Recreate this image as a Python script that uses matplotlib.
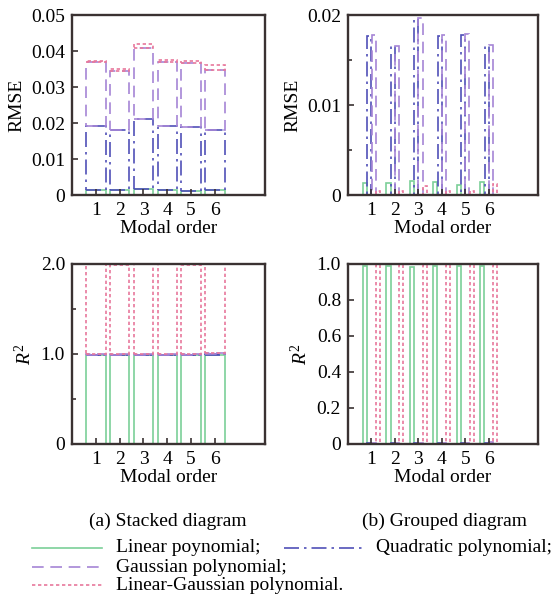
import matplotlib
matplotlib.use("Agg")
import matplotlib.pyplot as plt
import numpy as np
from matplotlib.lines import Line2D

plt.rcParams["font.family"] = ["Liberation Serif", "DejaVu Serif"]
plt.rcParams["mathtext.fontset"] = "custom"
plt.rcParams["mathtext.it"] = "Liberation Serif:italic"
plt.rcParams["mathtext.rm"] = "Liberation Serif"

# Modal orders and fitting-method results
modes = [1, 2, 3, 4, 5, 6]
series_names = ["Linear poynomial;", "Quadratic polynomial;",
                "Gaussian polynomial;", "Linear-Gaussian polynomial."]

rmse_linear = [0.00135, 0.00135, 0.0016, 0.0014, 0.0011, 0.0015]
rmse_quadratic = [0.0177, 0.0166, 0.0196, 0.0177, 0.0178, 0.0166]
rmse_gaussian = [0.0178, 0.0166, 0.0197, 0.0178, 0.0179, 0.0167]
rmse_lin_gauss = [0.0004, 0.0005, 0.0010, 0.0005, 0.0004, 0.0012]

r2_linear = [0.987, 0.988, 0.986, 0.987, 0.988, 0.988]
r2_quadratic = [0.006, 0.005, 0.007, 0.006, 0.005, 0.008]
r2_gaussian = [0.006, 0.005, 0.007, 0.006, 0.005, 0.010]
r2_lin_gauss = [0.996, 0.996, 0.996, 0.996, 0.996, 0.996]

# line styles per method
colors = ["#7ccf98", "#5050b8", "#a585d6", "#e8789c"]
styles = ["-", (0, (9, 3, 1.5, 3)), (0, (7, 4)), (0, (2, 1.6))]
lw = 1.2
frame_color = "#3a3232"

fig = plt.figure(figsize=(5.58, 5.99), dpi=100)
W, H = 558, 599


def px_axes(left, top, right, bottom):
    return fig.add_axes([left / W, 1 - bottom / H, (right - left) / W, (bottom - top) / H])


def style_axes(ax, ylim, major, labels, minor=None):
    ax.set_xlim(0.0, 8.1)
    ax.set_ylim(*ylim)
    ax.set_xticks(modes)
    ax.set_xticklabels([str(m) for m in modes])
    ax.set_yticks(major)
    ax.set_yticklabels(labels)
    if minor is not None:
        ax.set_yticks(minor, minor=True)
    ax.tick_params(axis="both", which="both", direction="in", labelsize=14,
                   color=frame_color, width=1.2)
    ax.tick_params(axis="both", which="major", length=4, pad=5)
    ax.tick_params(axis="both", which="minor", length=3)
    ax.tick_params(axis="x", which="minor", bottom=False)
    for s in ax.spines.values():
        s.set_color(frame_color)
        s.set_linewidth(1.7)
    ax.set_xlabel("Modal order", fontsize=14, labelpad=1)


def stacked(ax, data):
    x = np.array(modes, dtype=float)
    base = np.zeros(len(modes))
    for vals, c, ls in zip(data, colors, styles):
        vals = np.array(vals)
        ax.bar(x, vals, width=0.82, bottom=base, fill=False, edgecolor=c,
               linestyle=ls, linewidth=lw)
        base = base + vals


def grouped(ax, data):
    x = np.array(modes, dtype=float)
    n = len(data)
    gw = n / (n + 1.5)
    bw = gw / n
    for i, (vals, c, ls) in enumerate(zip(data, colors, styles)):
        off = (i - (n - 1) / 2) * bw
        ax.bar(x + off, vals, width=bw * 0.95, fill=False, edgecolor=c,
               linestyle=ls, linewidth=lw)


rmse = [rmse_linear, rmse_quadratic, rmse_gaussian, rmse_lin_gauss]
r2 = [r2_linear, r2_quadratic, r2_gaussian, r2_lin_gauss]

ax1 = px_axes(72, 15, 265, 195)
stacked(ax1, rmse)
style_axes(ax1, (0, 0.05), [0, 0.01, 0.02, 0.03, 0.04, 0.05],
           ["0", "0.01", "0.02", "0.03", "0.04", "0.05"])
ax1.set_ylabel("RMSE", fontsize=14, labelpad=4)

ax2 = px_axes(348, 15, 538, 195)
grouped(ax2, rmse)
style_axes(ax2, (0, 0.02), [0, 0.01, 0.02], ["0", "0.01", "0.02"],
           minor=[0.005, 0.015])
ax2.set_ylabel("RMSE", fontsize=14, labelpad=4)

ax3 = px_axes(72, 264, 265, 444)
stacked(ax3, r2)
style_axes(ax3, (0, 2.0), [0, 1.0, 2.0], ["0", "1.0", "2.0"], minor=[0.5, 1.5])
ax3.set_ylabel(r"$R^2$", fontsize=14, labelpad=4)

ax4 = px_axes(348, 264, 538, 444)
grouped(ax4, r2)
style_axes(ax4, (0, 1.0), [0, 0.2, 0.4, 0.6, 0.8, 1.0],
           ["0", "0.2", "0.4", "0.6", "0.8", "1.0"])
ax4.set_ylabel(r"$R^2$", fontsize=14, labelpad=4)

# panel captions
fig.text(168 / W, 1 - 521 / H, "(a) Stacked diagram", ha="center", va="center", fontsize=14)
fig.text(445 / W, 1 - 521 / H, "(b) Grouped diagram", ha="center", va="center", fontsize=14)

# legend
entries = [
    (32, 102, 116, 548, 0),
    (284, 362, 376, 548, 1),
    (32, 102, 116, 567, 2),
    (32, 102, 116, 585, 3),
]
for x0, x1, xt, y, i in entries:
    fig.add_artist(Line2D([x0 / W, x1 / W], [1 - y / H, 1 - y / H], color=colors[i],
                          linestyle=styles[i], linewidth=lw, transform=fig.transFigure))
    fig.text(xt / W, 1 - y / H, series_names[i], ha="left", va="center", fontsize=14)

fig.savefig("out.png", dpi=100)
